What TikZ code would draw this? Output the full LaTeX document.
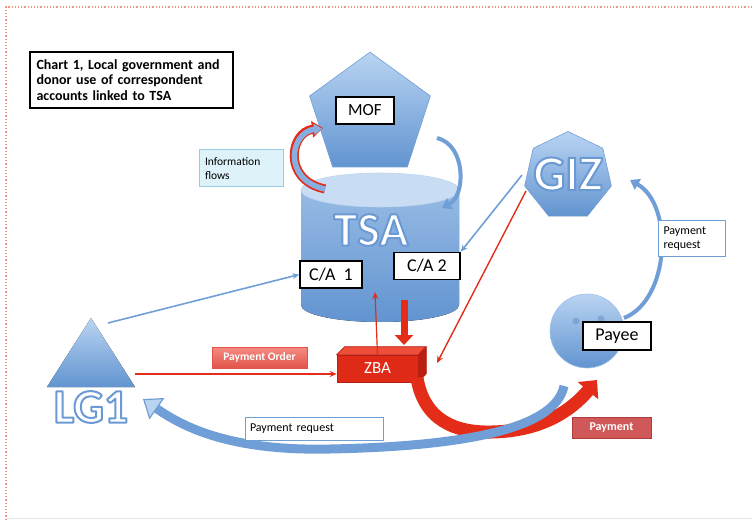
\documentclass[tikz,border=0pt]{standalone}
\usepackage{fontspec}
\setmainfont{Carlito}
\usetikzlibrary{shapes.geometric,arrows.meta,calc}
\definecolor{shapeL}{RGB}{185,212,242}
\definecolor{shapeD}{RGB}{98,148,208}
\definecolor{lineblue}{RGB}{112,158,214}
\definecolor{arrred}{RGB}{228,45,25}
\definecolor{zbafront}{RGB}{222,42,22}
\definecolor{zbatop}{RGB}{238,78,58}
\definecolor{zbaside}{RGB}{185,30,18}
\definecolor{borderdot}{RGB}{240,150,130}
\definecolor{infofill}{RGB}{222,242,250}
\definecolor{infoborder}{RGB}{150,205,228}
\definecolor{payfill}{RGB}{208,88,88}
\definecolor{payborder}{RGB}{175,60,60}
\definecolor{poL}{RGB}{246,140,130}
\definecolor{poD}{RGB}{226,84,74}
\definecolor{topell}{RGB}{200,220,244}
\newcommand{\outlinetext}[4]{%
  \node[text=white, font=\bfseries\fontsize{#3}{#3}\selectfont, inner sep=0pt] (#1) at (#2)
  {\special{pdf:literal direct 2 Tr 2 w 1 j 0.42 0.60 0.83 RG}#4\special{pdf:literal direct 0 Tr}};}
\tikzset{
  labelbox/.style={draw=black, line width=1.4pt, fill=white, inner sep=0pt},
  blueshape/.style={top color=shapeL, bottom color=shapeD, draw=lineblue, line width=0.6pt},
  blueline/.style={draw=lineblue, line width=1.6pt, -{Stealth[length=7pt,width=6pt]}},
  redline/.style={draw=arrred, line width=1.4pt, -{Stealth[length=7pt,width=6pt]}},
  bluebend/.style={draw=lineblue, line width=4pt, -{Triangle[length=9pt,width=12pt]}},
  notebox/.style={fill=white, draw=lineblue, line width=1pt, inner sep=0pt, align=left, font=\fontsize{12}{14}\selectfont},
}
\begin{document}
\begin{tikzpicture}[x=1pt,y=-1pt]
\useasboundingbox (0,0) rectangle (752,521);
% frame
\draw[borderdot, line width=1.2pt, dotted] (752,7) -- (6,7) -- (6,521);
\draw[gray!20, line width=0.8pt] (6,518) -- (752,518);

% title
\node[labelbox, minimum width=203pt, minimum height=56pt, text width=190pt, align=left,
  font=\bfseries\fontsize{14}{15.5}\selectfont] (title) at (131.5,80)
  {Chart 1, Local government and\\donor use of correspondent\\accounts linked to TSA};

% MOF
\node[regular polygon, regular polygon sides=5, minimum size=127pt, inner sep=0pt, blueshape] (mof) at (370,115.6) {};
\node[labelbox, minimum width=58pt, minimum height=27pt, font=\fontsize{17}{20}\selectfont] (moflbl) at (365,110.5) {MOF};

% TSA cylinder
\fill[top color=shapeL!60!shapeD, bottom color=shapeD] (301,190) -- (301,305) arc[start angle=180, end angle=360, x radius=79pt, y radius=17pt] -- (459,190) -- cycle;
\draw[fill=topell, draw=white!60!shapeD, line width=0.6pt] (380,190) ellipse [x radius=79pt, y radius=17pt];
\node[inner sep=0pt, minimum width=158pt, minimum height=150pt] (tsa) at (380,248) {};
\outlinetext{tsatxt}{371,230}{48}{TSA}
\node[labelbox, minimum width=62pt, minimum height=27pt, font=\fontsize{18}{20}\selectfont] (ca1) at (331,274.5) {C/A\ \ 1};
\node[labelbox, minimum width=66pt, minimum height=27pt, font=\fontsize{18}{20}\selectfont] (ca2) at (427,266) {C/A 2};

% GIZ
\node[regular polygon, regular polygon sides=7, minimum size=89pt, inner sep=0pt, blueshape] (giz) at (568,176) {};
\outlinetext{giztxt}{568,174}{50}{GIZ}

% LG1
\coordinate (lg1apex) at (91,318);
\coordinate (lg1right) at (135,387);
\coordinate (lg1left) at (47,387);
\fill[top color=shapeL, bottom color=shapeD] (lg1apex) -- (lg1right) -- (lg1left) -- cycle;
\outlinetext{lg1}{91,407}{48}{LG1}

% Payee
\node[circle, minimum size=74pt, inner sep=0pt, top color=shapeL, bottom color=shapeD, draw=shapeL!70!shapeD, line width=0.6pt] (payee) at (587,331) {};
\fill[shapeD!90!black!60!shapeL] (576,321) circle[radius=3.5pt];
\fill[shapeD!90!black!60!shapeL] (601,319) circle[radius=3.5pt];
\draw[shapeD!80, line width=0.6pt] (568,344) .. controls (578,354) and (596,354) .. (606,344);
\node[labelbox, minimum width=68pt, minimum height=28pt, font=\fontsize{18}{20}\selectfont] (payeelbl) at (617,336) {Payee};

% ZBA
\node[fill=zbafront, draw=zbaside, line width=0.6pt, minimum width=81pt, minimum height=27pt, inner sep=0pt,
  text=white, font=\fontsize{17}{20}\selectfont] (zba) at (377.5,368.5) {ZBA};
\fill[zbatop, draw=zbaside, line width=0.6pt] (zba.north west) -- ++(8,-8) -- ++(81,0) -- (zba.north east) -- cycle;
\fill[zbaside, draw=zbaside, line width=0.6pt] (zba.north east) -- ++(8,-8) -- ++(0,27) -- (zba.south east) -- cycle;

% named connector ends
\coordinate (lg1out) at (108,323);
\coordinate (lg1po) at (135,374);
\coordinate (gizw) at (522,175);
\coordinate (gizsw) at (526,191);
\coordinate (zbaright) at (437,363);
\coordinate (tsain) at (375,292);
\coordinate (tsaout) at (404,300);
\coordinate (zbatopin) at (404,345);
\coordinate (zbabot) at (417,378);
\coordinate (payeein) at (597,380);
\coordinate (payeeout) at (564,386);
\coordinate (lg1in) at (143,399);
\coordinate (tsatop) at (325,189);
\coordinate (mofin) at (323,128);
\coordinate (mofout) at (437,138);
\coordinate (tsaright) at (442,208);
\coordinate (payeeup) at (624,318);
\coordinate (gizin) at (630,180);

% straight connectors
\draw[blueline] (lg1out) -- (ca1.west);
\draw[blueline] (gizw) -- (ca2.north east);
\draw[redline] (gizsw) -- (zbaright);
\draw[redline] (lg1po) -- (lg1po -| zba.west);
\draw[redline, line width=1.2pt] (zba.north) -- (tsain);
\draw[draw=arrred, line width=7pt, -{Triangle[length=10pt,width=18pt]}] (tsaout) -- (zbatopin);

% information flow arrow
\draw[draw=arrred, line width=9pt, -{Triangle[length=11pt,width=16pt]}] (tsatop) .. controls (282,180) and (290,132) .. (mofin);
\draw[draw=lineblue!70!shapeL, line width=5.5pt, -{Triangle[length=8pt,width=11pt]}] (tsatop) .. controls (282,180) and (290,132) .. ($(mofin)+(-1,0.5)$);

% MOF -> TSA
\draw[bluebend] (mofout) .. controls (466,145) and (466,195) .. (tsaright);

% Payee -> GIZ
\draw[bluebend] (payeeup) .. controls (670,300) and (674,205) .. (gizin);

% payment (red)
\draw[draw=arrred, line width=13pt, -{Triangle[length=14pt,width=26pt]}] (zbabot) .. controls (424,420) and (455,433) .. (492,432) .. controls (540,431) and (570,412) .. (payeein);

% payment request (blue, to LG1)
\draw[draw=lineblue, line width=9pt, -{Triangle[length=17pt,width=26pt, fill=shapeL, line width=1.2pt]}] (payeeout) .. controls (556,425) and (480,446) .. (330,449) .. controls (240,451) and (190,432) .. (lg1in);

% note boxes
\node[fill=infofill, draw=infoborder, line width=1pt, minimum width=84pt, minimum height=37pt, inner sep=0pt,
  text width=72pt, align=left, font=\fontsize{11.5}{14}\selectfont] (info) at (241,168.5) {Information\\flows};
\node[top color=poL, bottom color=poD, draw=poD, minimum width=95pt, minimum height=21pt, inner sep=0pt,
  text=white, font=\bfseries\fontsize{11.5}{13}\selectfont] (po) at (259.5,357.5) {Payment Order};
\node[notebox, minimum width=138pt, minimum height=23pt, text width=128pt] (preq) at (314,428.5) {Payment request};
\node[fill=payfill, draw=payborder, line width=1pt, minimum width=79pt, minimum height=21pt, inner sep=0pt,
  text=white, font=\bfseries\fontsize{12}{14}\selectfont] (pay) at (611.5,427.5) {Payment};
\node[notebox, minimum width=67pt, minimum height=36pt, text width=56pt] (preq2) at (691.5,239) {Payment\\request};
\end{tikzpicture}
\end{document}
